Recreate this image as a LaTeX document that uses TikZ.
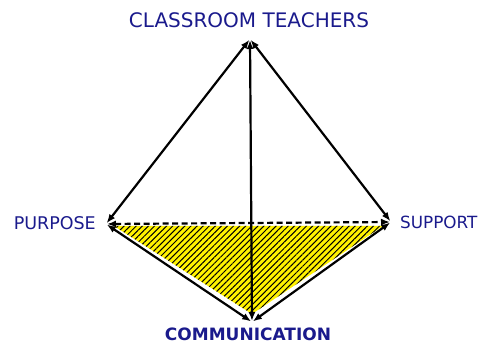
\documentclass[tikz,border=0pt]{standalone}
\usepackage{fontspec}
\setmainfont{DejaVu Sans}
\definecolor{navyblue}{HTML}{1A1A8C}
\definecolor{hatchyellow}{HTML}{FFF200}
\usetikzlibrary{arrows.meta, patterns.meta}

\begin{document}
\begin{tikzpicture}[x=1pt, y=-1pt, >={Latex[length=9pt, width=7pt]},
    link/.style={<->, black, line width=2.2pt, shorten >=1pt, shorten <=1pt},
    corner/.style={text=navyblue, font=\fontsize{17.5}{17.5}\selectfont, inner sep=0pt}]
  \useasboundingbox (0,0) rectangle (479,344);
  % Corners
  \coordinate (t) at (250,39);
  \coordinate (p) at (106,224);
  \coordinate (s) at (391,222);
  \coordinate (b) at (252,322);
  % Labels
  \node[corner, font=\fontsize{20}{20}\selectfont] (teach) at (249,20) {CLASSROOM TEACHERS};
  \node[corner, anchor=east] (purp) at (96,223) {PURPOSE};
  \node[corner, anchor=west, font=\fontsize{16.8}{16.8}\selectfont] (supp) at (400,222) {SUPPORT};
  \node[corner, font=\bfseries\fontsize{17}{17}\selectfont] (comm) at (248,334) {COMMUNICATION};
  % Hatched triangle
  \fill[hatchyellow] (114,226) -- (383,226) -- (252,314) -- cycle;
  \fill[pattern={Lines[angle=45, distance=4.3pt, line width=1pt]}]
    (114,226) -- (383,226) -- (252,314) -- cycle;
  % Links
  \draw[link] (t) -- (p);
  \draw[link] (t) -- (s);
  \draw[link] (t) -- (b);
  \draw[link, dash pattern=on 6pt off 3.5pt] (p) -- (s);
  \draw[link] (p) -- (b);
  \draw[link] (s) -- (b);
\end{tikzpicture}
\end{document}
